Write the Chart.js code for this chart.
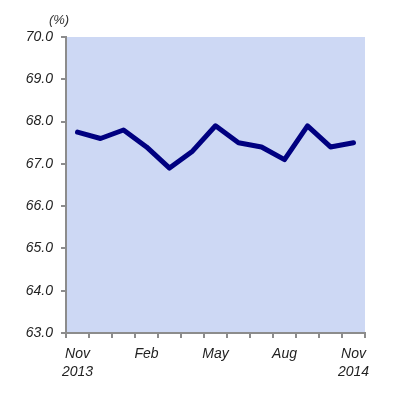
<!DOCTYPE html>
<html>
<head>
<meta charset="utf-8">
<script src="https://cdn.jsdelivr.net/npm/chart.js@4/dist/chart.umd.min.js"></script>
<style>
html,body{margin:0;padding:0;background:#fff;}
#wrap{position:relative;width:403px;height:398px;}
</style>
</head>
<body>
<div id="wrap"><canvas id="c" width="403" height="398"></canvas></div>
<script>
const months = ['Nov 2013','Dec 2013','Jan 2014','Feb 2014','Mar 2014','Apr 2014','May 2014','Jun 2014','Jul 2014','Aug 2014','Sep 2014','Oct 2014','Nov 2014'];
const xTickLabels = [['Nov','2013'],'','','Feb','','','May','','','Aug','','',['Nov','2014']];
const rate = [67.75, 67.6, 67.8, 67.4, 66.9, 67.3, 67.9, 67.5, 67.4, 67.1, 67.9, 67.4, 67.5];
const yMin = 63, yMax = 70, yStep = 1;
const unitLabel = '(%)';

const areaBg = {
  id: 'areaBg',
  beforeDraw(chart) {
    const {ctx, chartArea: a} = chart;
    ctx.save();
    ctx.fillStyle = '#cdd8f4';
    ctx.fillRect(a.left, a.top, a.right - a.left, a.bottom - a.top);
    ctx.restore();
  },
  afterDraw(chart) {
    const {ctx} = chart;
    ctx.save();
    ctx.font = 'italic 13px "Liberation Sans", Arial, sans-serif';
    ctx.fillStyle = '#333';
    ctx.textAlign = 'center';
    ctx.textBaseline = 'middle';
    ctx.fillText(unitLabel, 59, 20);
    ctx.restore();
  }
};

const tickFont = {family: '"Liberation Sans", Arial, sans-serif', size: 14, style: 'italic', lineHeight: 1.3};

new Chart(document.getElementById('c'), {
  type: 'line',
  data: {
    labels: months,
    datasets: [{
      data: rate,
      borderColor: '#000080',
      borderWidth: 5,
      pointRadius: 0,
      tension: 0,
      fill: false,
      borderCapStyle: 'round',
      borderJoinStyle: 'round'
    }]
  },
  options: {
    responsive: false,
    animation: false,
    layout: {padding: {top: 37, right: 38, left: 0, bottom: 0}},
    plugins: {legend: {display: false}, tooltip: {enabled: false}},
    scales: {
      x: {
        offset: true,
        afterFit(s) { s.height = 65; },
        grid: {offset: true, drawOnChartArea: false, tickLength: 5, color: '#8c8c8c', lineWidth: 2},
        border: {color: '#8c8c8c', width: 2},
        ticks: {
          autoSkip: false, maxRotation: 0, padding: 7,
          color: '#222', font: tickFont,
          callback: (v, i) => xTickLabels[i]
        }
      },
      y: {
        min: yMin, max: yMax,
        afterFit(s) { s.width = 66; },
        grid: {drawOnChartArea: false, tickLength: 5, color: '#8c8c8c', lineWidth: 2},
        border: {color: '#8c8c8c', width: 2},
        ticks: {
          stepSize: yStep, padding: 8, color: '#222',
          font: {family: '"Liberation Sans", Arial, sans-serif', size: 14, style: 'italic'},
          callback: v => Number(v).toFixed(1)
        }
      }
    }
  },
  plugins: [areaBg]
});
</script>
</body>
</html>
